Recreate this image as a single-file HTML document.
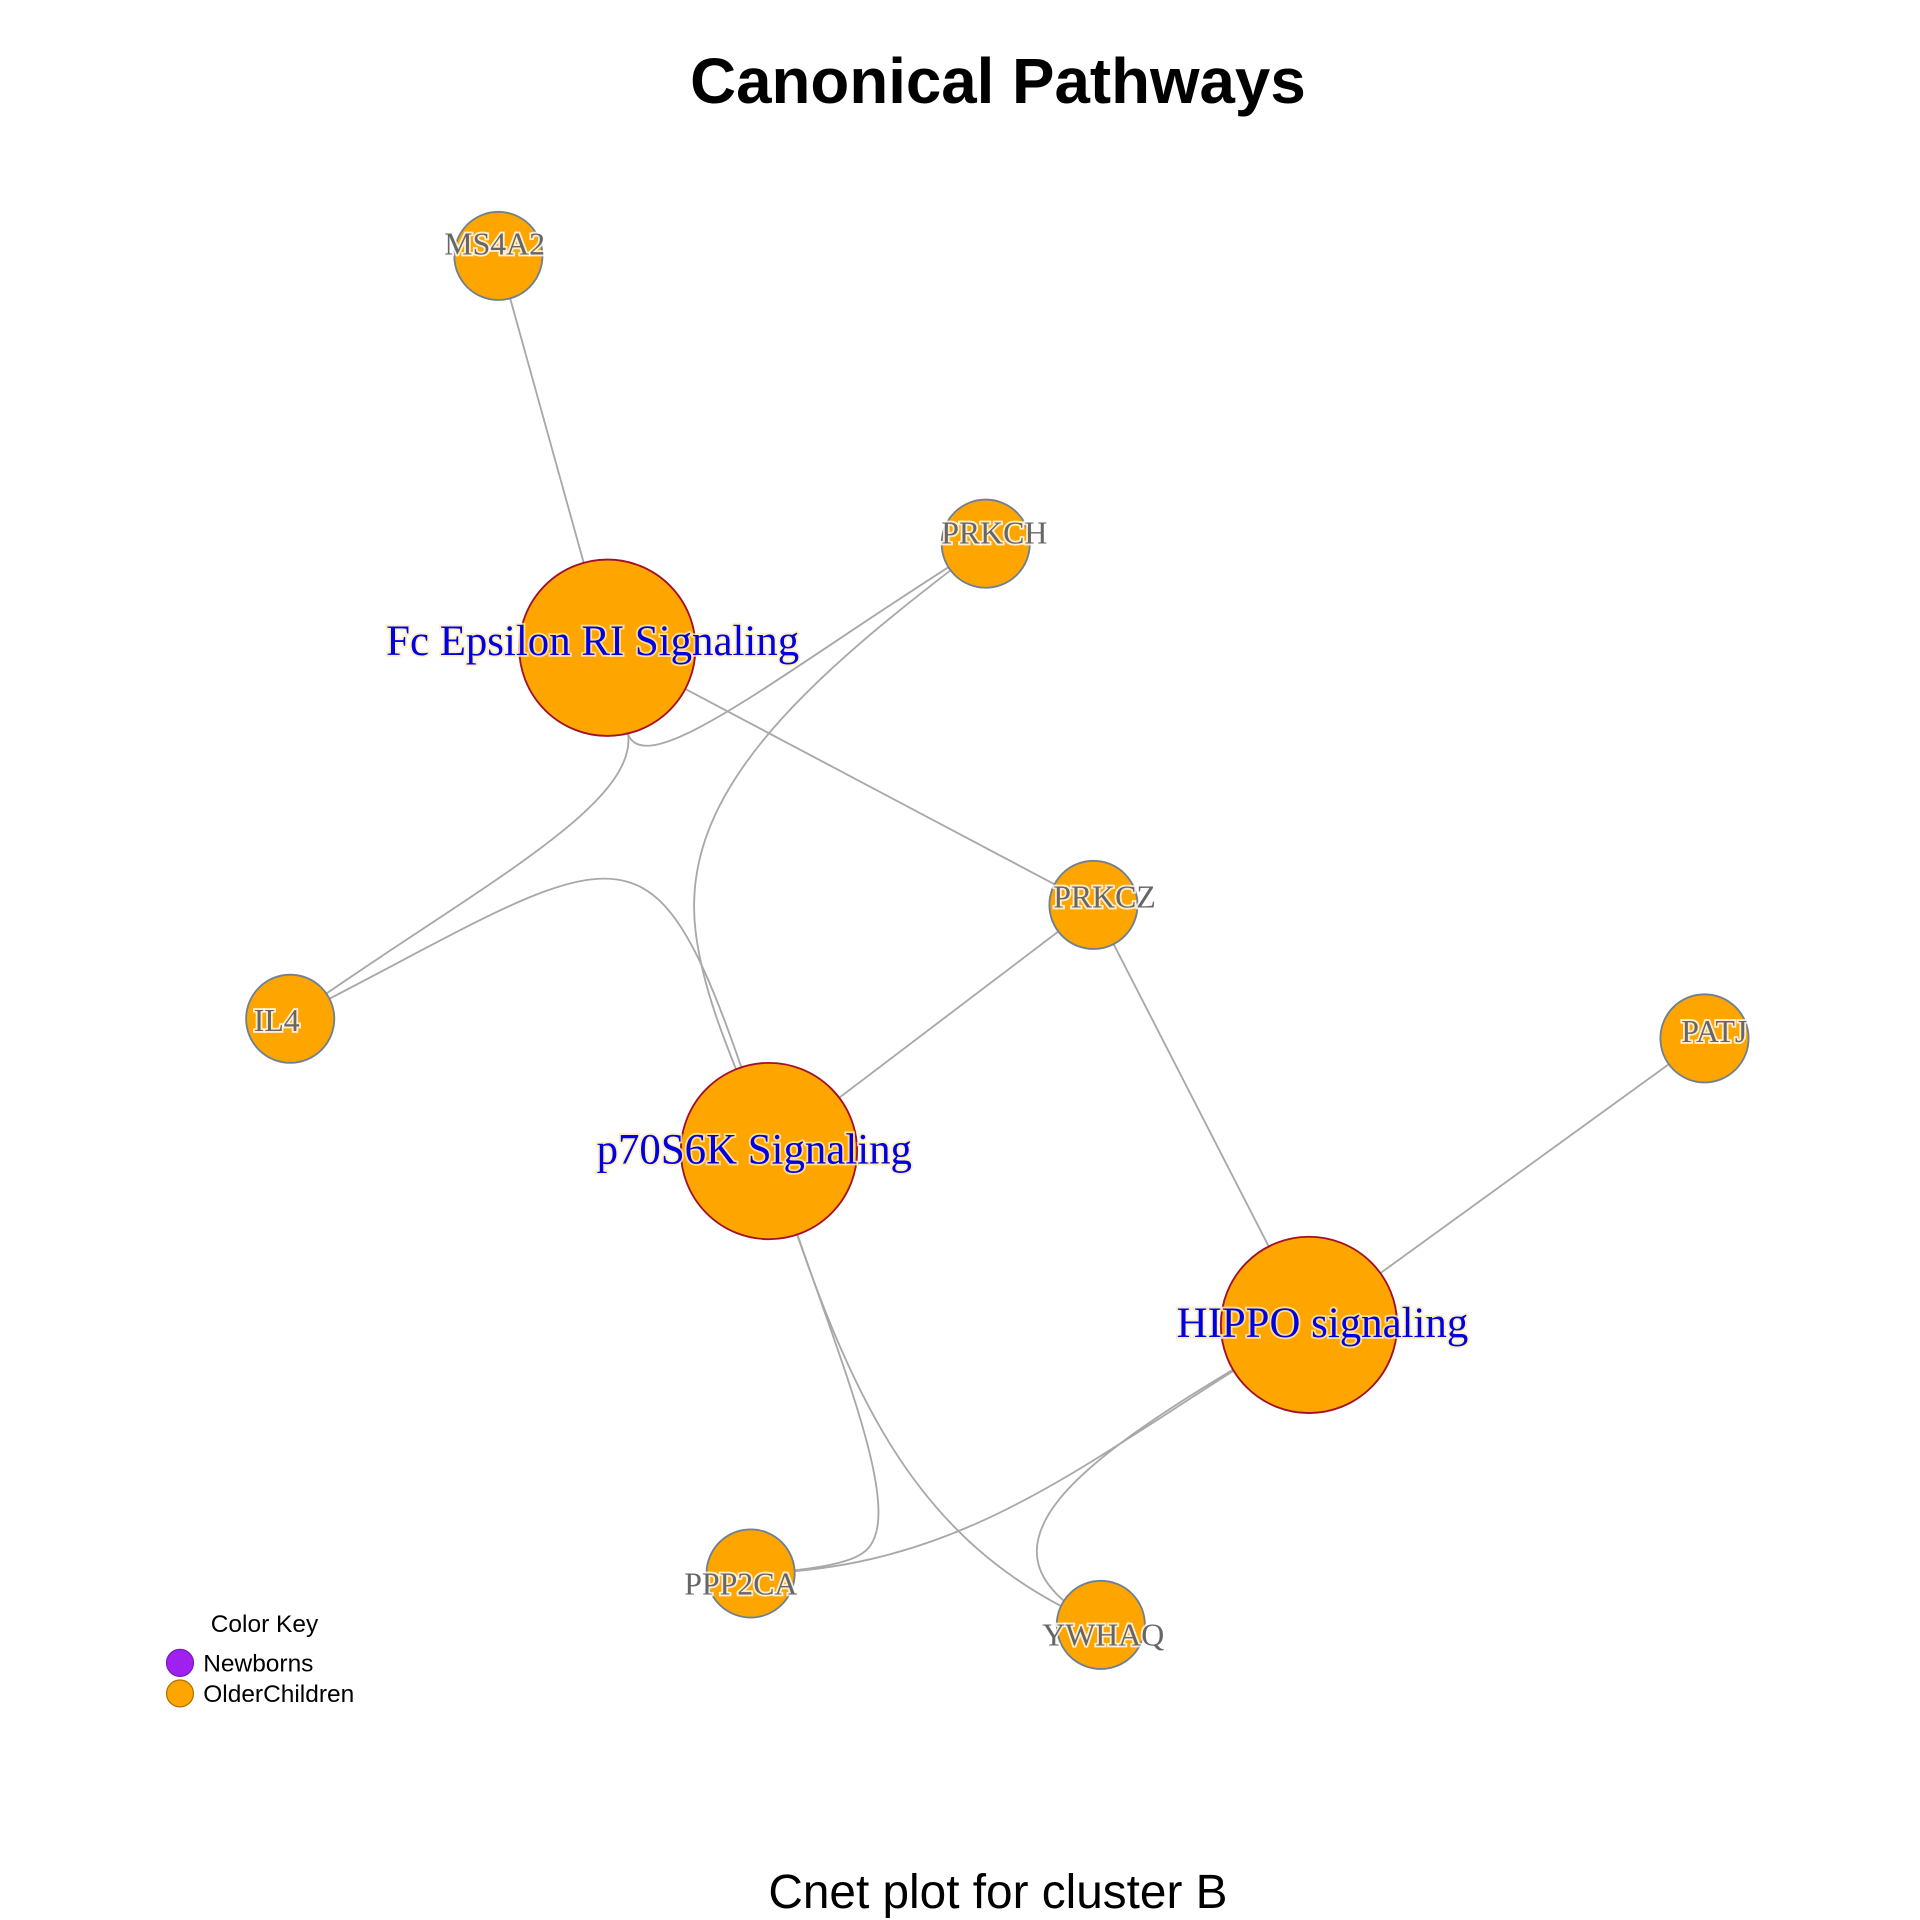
<!DOCTYPE html>
<html><head><meta charset="utf-8"><style>
html,body{margin:0;padding:0;background:#fff;}
svg{display:block;}
</style></head><body>
<svg id="chart" width="1920" height="1920" viewBox="0 0 1568 1568" xmlns="http://www.w3.org/2000/svg">
<rect width="1568" height="1568" fill="#fff"/>
<text x="815" y="84" text-anchor="middle" font-family="Liberation Sans, sans-serif" font-weight="bold" font-size="52">Canonical Pathways</text>
<g id="edges"></g>
<g id="nodes"></g>
<g id="labels"></g>
<text x="815" y="1558" text-anchor="middle" font-family="Liberation Sans, sans-serif" font-size="39">Cnet plot for cluster B</text>
<g font-family="Liberation Sans, sans-serif">
<text x="216" y="1333" text-anchor="middle" font-size="20">Color Key</text>
<circle cx="147" cy="1358" r="11" fill="#a020f0" stroke="#7a1ab8" stroke-width="1"/>
<text x="166" y="1365" font-size="20">Newborns</text>
<circle cx="147" cy="1383" r="11" fill="#ffa500" stroke="#b07000" stroke-width="1"/>
<text x="166" y="1390" font-size="20">OlderChildren</text>
</g>
</svg>
<script>
const nodeNames = ["MS4A2","PRKCH","Fc Epsilon RI Signaling","PRKCZ","IL4","PATJ","p70S6K Signaling","HIPPO signaling","PPP2CA","YWHAQ"];
const nodeIsPathway = [false,false,true,false,false,false,true,true,false,false];
const nodeX = [407,805,496,893,237,1392,628,1069,613,899];
const nodeY = [209,444,529,739,832,848,940,1082,1285,1327];
const labelDx = [-3,7,-12,9,-11,8,-12,11,-8,2];
const labelDy = [-1,0,6,2,10,3,10,10,17,17];
const edgeFrom = ["MS4A2","Fc Epsilon RI Signaling","PRKCZ","PRKCZ","PATJ"];
const edgeTo = ["Fc Epsilon RI Signaling","PRKCZ","p70S6K Signaling","HIPPO signaling","HIPPO signaling"];
const curvedEdges = [
 "M805,444 C650,540 530,640 513,600 L496,529",
 "M237,832 C380,730 520,660 513,600",
 "M805,444 C650,560 555,650 568,760 C575,820 605,880 628,940",
 "M237,832 C380,760 460,705 512,720 C555,732 580,790 628,940",
 "M628,940 C680,1100 745,1240 705,1268 C685,1283 613,1285 613,1285",
 "M628,940 C690,1130 740,1260 899,1327",
 "M1069,1082 C900,1180 800,1282 613,1285",
 "M1069,1082 C900,1180 770,1260 899,1327"
];
const NS="http://www.w3.org/2000/svg";
const eg=document.getElementById('edges'),ng=document.getElementById('nodes'),lg=document.getElementById('labels');
const idx=n=>nodeNames.indexOf(n);
edgeFrom.forEach((f,i)=>{
 const a=idx(f),b=idx(edgeTo[i]);
 const l=document.createElementNS(NS,'line');
 
 
 l.setAttribute('x1',nodeX[a]);l.setAttribute('y1',nodeY[a]);
 l.setAttribute('x2',nodeX[b]);l.setAttribute('y2',nodeY[b]);
 l.setAttribute('stroke','#a8a8a8');l.setAttribute('stroke-width','1.5');
 eg.appendChild(l);
});
curvedEdges.forEach(d=>{
 const p=document.createElementNS(NS,'path');
 
 
 p.setAttribute('d',d);p.setAttribute('fill','none');
 p.setAttribute('stroke','#a8a8a8');p.setAttribute('stroke-width','1.5');
 eg.appendChild(p);
});
nodeNames.forEach((n,i)=>{
 const pw=nodeIsPathway[i];
 const c=document.createElementNS(NS,'circle');
 
 
 c.setAttribute('cx',nodeX[i]);c.setAttribute('cy',nodeY[i]);
 c.setAttribute('r',pw?72:36);
 c.setAttribute('fill','#ffa500');
 c.setAttribute('stroke',pw?'#a0102a':'#708090');c.setAttribute('stroke-width','1.5');
 ng.appendChild(c);
 const t=document.createElementNS(NS,'text');
 
 
 t.setAttribute('x',nodeX[i]+labelDx[i]);t.setAttribute('y',nodeY[i]+labelDy[i]);
 t.setAttribute('text-anchor','middle');
 t.setAttribute('font-family','Liberation Serif, serif');
 t.setAttribute('font-size',pw?35:26);
 t.setAttribute('fill',pw?'#0000e0':'#666');
 t.setAttribute('stroke',pw?'rgba(255,235,180,0.8)':'rgba(255,255,255,0.8)');
 t.setAttribute('stroke-width','3');
 t.setAttribute('paint-order','stroke');
 t.textContent=n;
 lg.appendChild(t);
});
</script>
</body></html>
